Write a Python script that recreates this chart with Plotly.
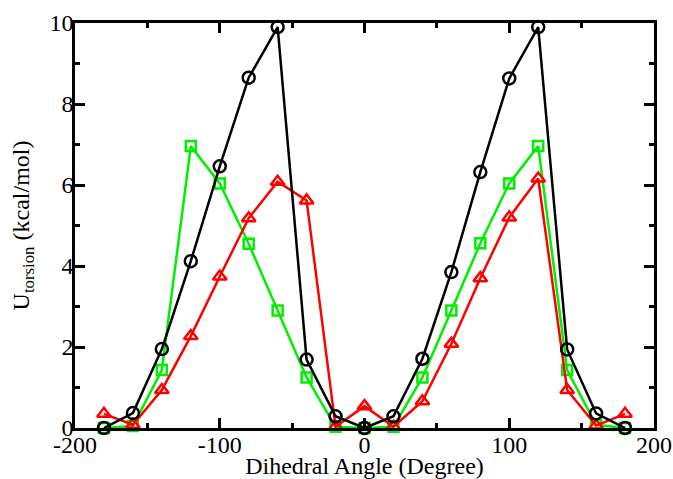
import plotly.graph_objects as go

angles = [-180, -160, -140, -120, -100, -80, -60, -40, -20, 0,
          20, 40, 60, 80, 100, 120, 140, 160, 180]
black_vals = [0.0, 0.37, 1.95, 4.12, 6.46, 8.65, 9.90, 1.69, 0.29, 0.0,
              0.29, 1.71, 3.85, 6.32, 8.63, 9.90, 1.94, 0.36, 0.0]
green_vals = [0.0, 0.05, 1.43, 6.96, 6.04, 4.55, 2.90, 1.25, 0.03, 0.0,
              0.03, 1.25, 2.90, 4.56, 6.04, 6.96, 1.43, 0.08, 0.0]
red_vals = [0.35, 0.08, 0.94, 2.27, 3.74, 5.18, 6.08, 5.62, 0.03, 0.54,
            0.03, 0.66, 2.08, 3.70, 5.20, 6.16, 0.94, 0.06, 0.35]

x_ticks = [-200, -100, 0, 100, 200]
y_ticks = [0, 2, 4, 6, 8, 10]

fig = go.Figure()
series = [
    (green_vals, "#00ee00", "square-open", 10),
    (red_vals, "#ff0000", "triangle-up-open", 12),
    (black_vals, "#000000", "circle-open", 12),
]
for vals, col, sym, sz in series:
    fig.add_trace(go.Scatter(
        x=angles, y=vals, mode="lines+markers",
        line=dict(color=col, width=2.5),
        marker=dict(symbol=sym, size=sz, color=col, line=dict(color=col, width=2.5)),
        showlegend=False, cliponaxis=False,
    ))

font_family = "Liberation Serif"
fig.update_layout(
    width=673, height=479,
    margin=dict(l=75, r=19, t=23, b=51, pad=0),
    paper_bgcolor="white", plot_bgcolor="white",
    font=dict(family=font_family, size=24, color="black"),
)
fig.update_xaxes(
    automargin=False,
    range=[-200, 200], tickvals=x_ticks, ticktext=[str(v) for v in x_ticks],
    showgrid=False, zeroline=False,
    showline=True, linecolor="black", linewidth=2.5, mirror="allticks",
    ticks="inside", ticklen=10, tickwidth=2.5, tickcolor="black",
    minor=dict(dtick=50, ticks="inside", ticklen=5, tickwidth=2.5, tickcolor="black", showgrid=False),
    tickfont=dict(family=font_family, size=24),
    ticklabelstandoff=-7,
    title=dict(text="Dihedral Angle (Degree)", font=dict(family=font_family, size=24), standoff=18),
)
fig.update_yaxes(
    automargin=False,
    range=[0, 10], tickvals=y_ticks, ticktext=[str(v) for v in y_ticks],
    showgrid=False, zeroline=False,
    showline=True, linecolor="black", linewidth=2.5, mirror="allticks",
    ticks="inside", ticklen=10, tickwidth=2.5, tickcolor="black",
    minor=dict(dtick=1, ticks="inside", ticklen=5, tickwidth=2.5, tickcolor="black", showgrid=False),
    tickfont=dict(family=font_family, size=24),
    ticklabelstandoff=-6,
    title=dict(text="U<sub>torsion</sub> (kcal/mol)", font=dict(family=font_family, size=24), standoff=14),
)

# remove the browser's default 8px page margin so the figure fills the window exactly
fig.write_html(
    "out.html",
    config={"displayModeBar": False},
    post_script="document.body.style.margin='0';document.body.style.overflow='hidden';",
)
